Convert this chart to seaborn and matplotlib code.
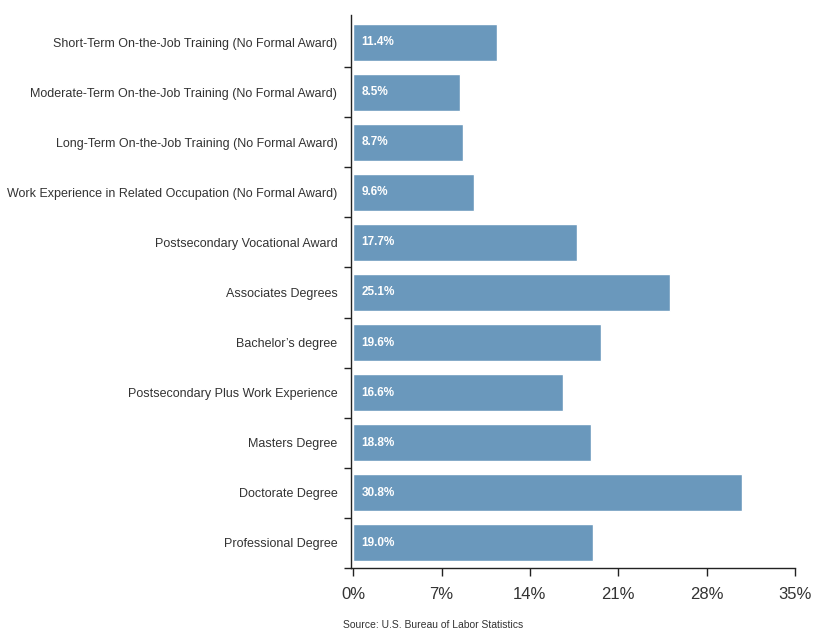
import matplotlib.pyplot as plt
import pandas as pd
import seaborn as sns

# Data
categories = [
    'Short-Term On-the-Job Training (No Formal Award)',
    'Moderate-Term On-the-Job Training (No Formal Award)',
    'Long-Term On-the-Job Training (No Formal Award)',
    'Work Experience in Related Occupation (No Formal Award)',
    'Postsecondary Vocational Award',
    'Associates Degrees',
    'Bachelor\u2019s degree',
    'Postsecondary Plus Work Experience',
    'Masters Degree',
    'Doctorate Degree',
    'Professional Degree',
]
values = [11.4, 8.5, 8.7, 9.6, 17.7, 25.1, 19.6, 16.6, 18.8, 30.8, 19.0]
x_ticks = [0, 7, 14, 21, 28, 35]

df = pd.DataFrame({'category': categories, 'value': values})

sns.set_style('white')
plt.rcParams['font.family'] = ['Liberation Sans', 'DejaVu Sans']

fig = plt.figure(figsize=(8.13, 6.33), dpi=100)
ax = fig.add_axes([0.432, 0.103, 0.546, 0.873])

sns.barplot(data=df, y='category', x='value', orient='h', color='#6a98bc',
            saturation=1, width=0.74, ax=ax)

ax.set_xlim(-0.15, 35)
ax.set_ylim(10.5, -0.54)
ax.set_xticks(x_ticks)
ax.set_xticklabels([f'{t}%' for t in x_ticks], fontsize=12, color='#333333')
ax.set_yticks(range(len(categories)))
ax.set_yticklabels(categories, fontsize=9, color='#333333')
ax.tick_params(axis='y', which='major', left=False, length=0, pad=10)
ax.set_yticks([i + 0.5 for i in range(len(categories))], minor=True)
ax.tick_params(axis='y', which='minor', left=True, length=5, width=1,
               color='#222222', direction='out')
ax.tick_params(axis='x', bottom=True, length=6, width=1, color='#222222',
               direction='out', pad=8)
ax.set_xlabel('')
ax.set_ylabel('')

for s in ['top', 'right']:
    ax.spines[s].set_visible(False)
for s in ['left', 'bottom']:
    ax.spines[s].set_color('#222222')
    ax.spines[s].set_linewidth(1)

for i, v in enumerate(values):
    ax.text(0.65, i, f'{v:.1f}%', color='white', fontsize=8.5, fontweight='bold',
            va='center', ha='left')

fig.text(343 / 813, 1 - 628 / 633, 'Source: U.S. Bureau of Labor Statistics',
         fontsize=7.5, color='#333333', ha='left', va='baseline')

fig.savefig('out.png', dpi=100)
